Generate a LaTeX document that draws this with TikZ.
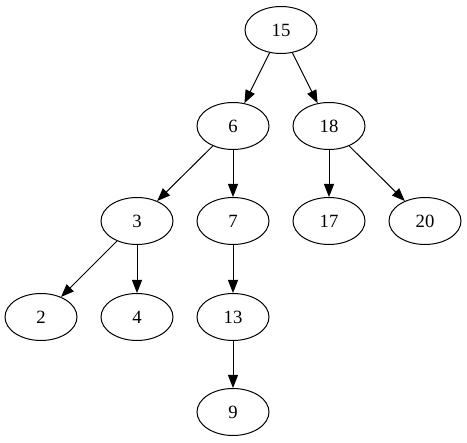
\documentclass[tikz,border=0pt]{standalone}
\usepackage{fontspec}
\setmainfont{Liberation Serif}
\usetikzlibrary{shapes.geometric,arrows.meta}
\begin{document}
\begin{tikzpicture}[x=1pt,y=-1pt,
  tnode/.style={draw,ellipse,minimum width=72pt,minimum height=47pt,inner sep=0pt,line width=1pt,font=\fontsize{18.7}{20}\selectfont},
  edge/.style={draw,line width=1pt,-{Triangle[length=13pt,width=10pt]}}]
\useasboundingbox (0,0) rectangle (467,443);
\node[tnode] (n15) at (281,30) {15};
\node[tnode] (n6) at (233,126) {6};
\node[tnode] (n18) at (329,126) {18};
\node[tnode] (n3) at (137,221) {3};
\node[tnode] (n7) at (233,221) {7};
\node[tnode] (n17) at (329,221) {17};
\node[tnode] (n20) at (425,221) {20};
\node[tnode] (n2) at (41,317) {2};
\node[tnode] (n4) at (137,317) {4};
\node[tnode] (n13) at (233,317) {13};
\node[tnode] (n9) at (233,412) {9};
\draw[edge] (n15) -- (n6);
\draw[edge] (n15) -- (n18);
\draw[edge] (n6) -- (n3);
\draw[edge] (n6) -- (n7);
\draw[edge] (n18) -- (n17);
\draw[edge] (n18) -- (n20);
\draw[edge] (n3) -- (n2);
\draw[edge] (n3) -- (n4);
\draw[edge] (n7) -- (n13);
\draw[edge] (n13) -- (n9);
\end{tikzpicture}
\end{document}
